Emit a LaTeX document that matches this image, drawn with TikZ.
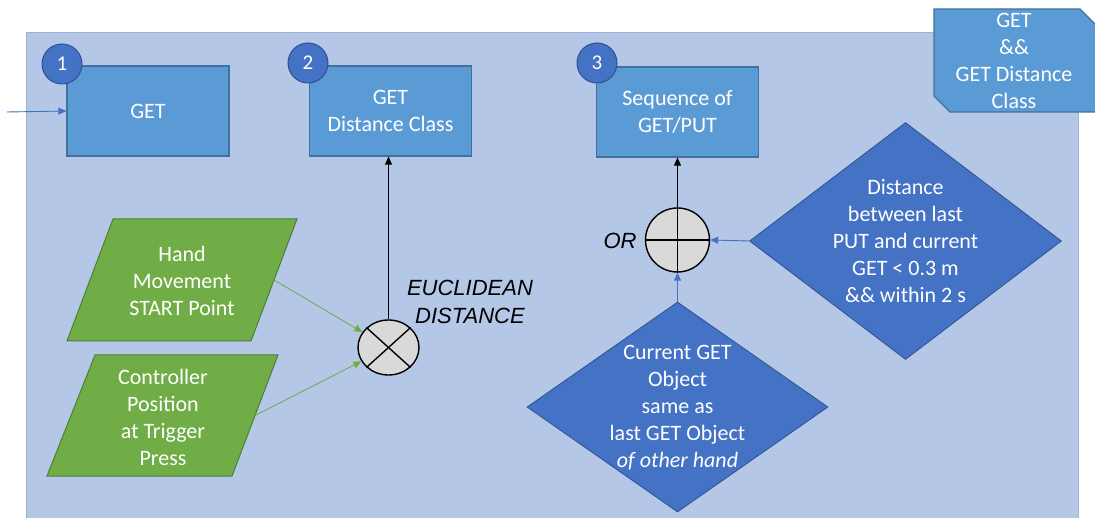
\documentclass[tikz,border=0pt]{standalone}
\usepackage{fontspec}
\setmainfont{Carlito}
\newfontfamily\arialit{Liberation Sans}[ItalicFont=* Italic]
\usetikzlibrary{shapes.geometric,arrows.meta}

\definecolor{panelfill}{HTML}{B4C7E7}
\definecolor{paneldraw}{HTML}{9FB2D4}
\definecolor{boxfill}{HTML}{5B9BD5}
\definecolor{boxdraw}{HTML}{41719C}
\definecolor{darkfill}{HTML}{4472C4}
\definecolor{darkdraw}{HTML}{2F528F}
\definecolor{greenfill}{HTML}{70AD47}
\definecolor{greendraw}{HTML}{507E32}
\definecolor{gatefill}{HTML}{D9D9D9}

\tikzset{
  txt/.style={text=white, align=center, inner sep=0pt,
    font=\fontsize{22}{27}\selectfont},
  stagebox/.style={draw=boxdraw, fill=boxfill, line width=1.2pt,
    minimum width=162pt, minimum height=90pt, inner sep=0pt,
    text=white, align=center, font=\fontsize{22}{27}\selectfont},
  numdot/.style={circle, draw=darkdraw, fill=darkfill, line width=1pt,
    minimum size=40pt, inner sep=0pt, text=white,
    font=\fontsize{21}{25}\selectfont},
  cond/.style={diamond, draw=darkdraw, fill=darkfill, line width=0.8pt,
    inner sep=0pt},
  inbox/.style={draw=greendraw, fill=greenfill, line width=1pt},
  gate/.style={draw=black, fill=gatefill, line width=1.4pt, inner sep=0pt},
  note/.style={align=center, inner sep=0pt,
    font=\arialit\itshape\fontsize{22}{28}\selectfont},
  tip/.style={-{Triangle[length=8pt,width=7pt]}},
  blackarrow/.style={tip, draw=black, line width=0.8pt},
  bluearrow/.style={tip, draw=darkfill, fill=darkfill, line width=0.9pt},
  greenarrow/.style={tip, draw=greenfill, fill=greenfill, line width=0.8pt},
}

\begin{document}
\begin{tikzpicture}[x=1pt, y=-1pt]
\useasboundingbox (0,0) rectangle (1095,518);

% background panel
\fill[panelfill] (26,33) rectangle (1078,518);
\draw[paneldraw, line width=1pt] (26,518) -- (26,33) -- (1078,33) -- (1078,518);

% result box with snipped corners
\draw[boxdraw, fill=boxfill, line width=1.2pt]
  (934,9) -- (1080,9) -- (1096,25) -- (1096,112) -- (950,112) -- (934,96) -- cycle;
\node[txt] (res) at (1014,61) {GET\\\&\&\\GET Distance\\Class};

% three stages
\node[stagebox] (b1) at (148,111) {GET};
\node[stagebox] (b2) at (390.5,111) {GET\\Distance Class};
\node[stagebox] (b3) at (677.5,112) {Sequence of\\GET/PUT};
\node[numdot] (n1) at (62,64) {1};
\node[numdot] (n2) at (308,63) {2};
\node[numdot] (n3) at (597,63) {3};

% input arrow into stage 1
\coordinate (entry) at (7,112);
\draw[bluearrow] (entry) -- (b1.west);

% input parallelograms
\draw[inbox] (113,219) -- (297,219) -- (251,341) -- (67,341) -- cycle;
\node[txt] (hand) at (182,281) {Hand\\Movement\\START Point};
\coordinate (handout) at (274,280);
\draw[inbox] (95,355) -- (278,355) -- (232,476) -- (47,476) -- cycle;
\node[txt] (ctrl) at (163,417.5) {Controller\\Position\\at Trigger\\Press};
\coordinate (ctrlout) at (255,415.5);

% euclidean distance gate
\node[gate, ellipse, minimum width=61pt, minimum height=55pt] (eu) at (388.5,347.5) {};
\draw[line width=1.4pt] (eu.north east) -- (eu.south west);
\draw[line width=1.4pt] (eu.north west) -- (eu.south east);
\node[note] (eutxt) at (470,302) {EUCLIDEAN\\DISTANCE};
\draw[greenarrow] (handout) -- (eu);
\draw[greenarrow] (ctrlout) -- (eu);
\draw[blackarrow] (eu.north) -- (eu.north |- b2.south);

% OR gate
\node[gate, circle, minimum size=64pt] (orgate) at (677.5,240) {};
\draw[line width=1.4pt] (orgate.north) -- (orgate.south);
\draw[line width=1.4pt] (orgate.west) -- (orgate.east);
\node[note] (ortxt) at (620,241) {OR};
\draw[blackarrow] (orgate.north) -- (orgate.north |- b3.south);

% conditions
\node[cond, minimum width=312pt, minimum height=237pt] (d1) at (905.5,241) {};
\node[txt] at (d1) {Distance\\between last\\PUT and current\\GET < 0.3 m\\\&\& within 2 s};
\node[cond, minimum width=301pt, minimum height=210pt] (d2) at (677.5,407) {};
\node[txt] at (677.5,407.5) {Current GET\\Object\\same as\\last GET Object\\\textit{of other hand}};
\draw[bluearrow] (d1.west) -- (orgate.east);
\draw[bluearrow] (d2.north) -- (orgate.south);
\end{tikzpicture}
\end{document}
